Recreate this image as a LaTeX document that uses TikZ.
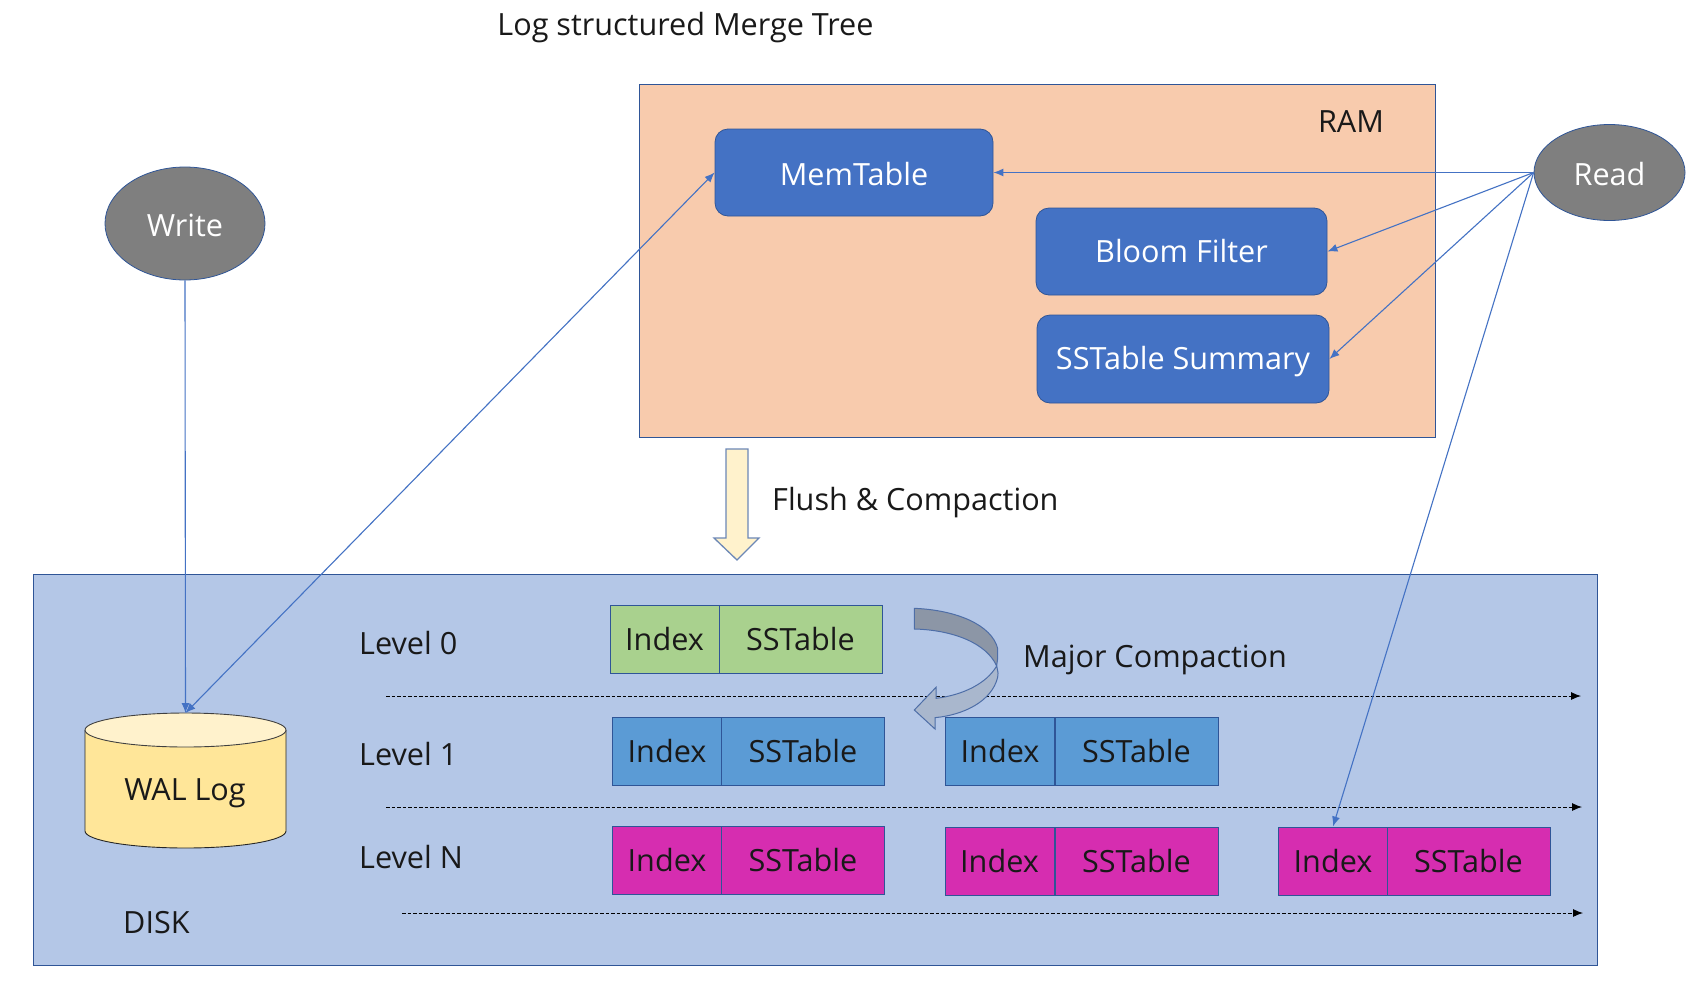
\documentclass[tikz,border=0pt]{standalone}
\usepackage{fontspec}
\setmainfont{Open Sans}
\usetikzlibrary{arrows.meta,shapes.geometric,calc}
\definecolor{ramfill}{HTML}{F8CBAD}
\definecolor{diskfill}{HTML}{B4C7E7}
\definecolor{bluefill}{HTML}{4472C4}
\definecolor{blueline}{HTML}{2F5597}
\definecolor{greyfill}{HTML}{7F7F7F}
\definecolor{greenfill}{HTML}{A9D18E}
\definecolor{midblue}{HTML}{5B9BD5}
\definecolor{magfill}{HTML}{D62DB0}
\definecolor{cyl}{HTML}{FFE699}
\definecolor{cyltop}{HTML}{FFF2CC}
\definecolor{curvedark}{HTML}{8C96A6}
\definecolor{curvelight}{HTML}{A9B7CD}
\tikzset{
  lbl/.style={font=\fontsize{30.6}{33}\selectfont,text=black!90,inner sep=0pt},
  panel/.style={draw=blueline,line width=1pt},
  rbox/.style={draw=blueline,fill=bluefill,line width=.8pt,rounded corners=13pt,minimum width=0pt,inner sep=0pt,text=white,font=\fontsize{30.6}{33}\selectfont},
  oval/.style={ellipse,draw=blueline,fill=greyfill,line width=.8pt,inner sep=0pt,text=white,font=\fontsize{30.6}{33}\selectfont,text height=25pt,text depth=0pt},
  cell/.style={draw=blueline,line width=1pt,inner sep=0pt,text=black!90,font=\fontsize{30.6}{33}\selectfont,minimum height=68pt},
  idx/.style={cell,minimum width=109pt},
  sst/.style={cell,minimum width=163pt},
  green/.style={fill=greenfill},
  mid/.style={fill=midblue},
  mag/.style={fill=magfill},
  conn/.style={draw=bluefill,line width=1.1pt,-{Latex[length=10pt,width=8pt]}},
  dots/.style={draw=black,line width=.9pt,dash pattern=on 3.5pt off 2pt,-{Latex[length=10pt,width=8pt]}},
}
\begin{document}
\begin{tikzpicture}[x=1pt,y=-1pt]
\useasboundingbox (0,0) rectangle (1696,988);
\fill[white] (0,0) rectangle (1696,988);
\node[lbl] (title) at (685.5,28) {Log structured Merge Tree};
\path[panel,fill=ramfill] (639,84) rectangle (1435,437);
\path[panel,fill=diskfill] (33,574) rectangle (1597,965);
\node[lbl] (ramlbl) at (1351,122) {RAM};
\node[rbox,minimum width=278pt,minimum height=87pt,text height=25pt,text depth=0pt] (mem) at (854,172.5) {MemTable};
\node[rbox,minimum width=291pt,minimum height=87pt] (bloom) at (1181.5,251.5) {Bloom Filter};
\node[rbox,minimum width=292pt,minimum height=88pt,text height=25pt,text depth=4pt] (summ) at (1183,359) {SSTable Summary};
\node[oval,minimum width=160pt,minimum height=113pt] (write) at (185,223.5) {Write};
\node[oval,minimum width=151pt,minimum height=96pt] (read) at (1609.5,172.5) {Read};
% cylinder
\fill[cyl] (85,730) -- (85,831) arc[start angle=180,end angle=360,x radius=100.5pt,y radius=17pt] -- (286,730) -- cycle;
\draw[black!85,line width=.9pt] (85,730) -- (85,831) arc[start angle=180,end angle=360,x radius=100.5pt,y radius=17pt] -- (286,730);
\draw[black!75,fill=cyltop,line width=.9pt] (185.5,730) ellipse[x radius=100.5pt,y radius=17pt];
\coordinate (waltop) at (185.5,713);
\node[lbl] (wal) at (185,793) {WAL Log};
% flush arrow
\path[draw=blueline!70!white,line width=1.3pt,fill=cyltop,line join=miter] (726,449) -- (748,449) -- (748,538) -- (759,538) -- (737,560) -- (714,538) -- (726,538) -- cycle;
\node[lbl,anchor=west] (flush) at (772,503) {Flush \& Compaction};
% level labels
\node[lbl,anchor=west] (l0) at (359,643) {Level 0};
\node[lbl,anchor=west] (l1) at (359,754) {Level 1};
\node[lbl,anchor=west] (ln) at (359,857) {Level N};
\node[lbl,anchor=west] (disk) at (123,923) {DISK};
\node[lbl,anchor=west] (major) at (1023,660) {Major Compaction};
% cells
\node[idx,green] (i0) at (664.5,639) {Index};
\node[sst,green] (s0) at (800.5,639) {SSTable};
\node[idx,mid] (i1a) at (667,751) {Index};
\node[sst,mid] (s1a) at (803,751) {SSTable};
\node[idx,mid] (i1b) at (1000,751) {Index};
\node[sst,mid] (s1b) at (1136.5,751) {SSTable};
\node[idx,mag] (ina) at (667,860) {Index};
\node[sst,mag] (sna) at (803,860) {SSTable};
\node[idx,mag] (inb) at (999.5,861) {Index};
\node[sst,mag] (snb) at (1136.5,861) {SSTable};
\node[idx,mag] (inc) at (1333,861) {Index};
\node[sst,mag] (snc) at (1468.5,861) {SSTable};
% dotted lines
\coordinate (d0a) at (386,696); \coordinate (d0b) at (1581,696);
\coordinate (d1a) at (386,807); \coordinate (d1b) at (1582,807);
\coordinate (d2a) at (402,913); \coordinate (d2b) at (1583,913);
\draw[dots] (d0a) -- (d0b);
\draw[dots] (d1a) -- (d1b);
\draw[dots] (d2a) -- (d2b);
% curved arrow
\begin{scope}[shift={(850,580)},x=.3333pt,y=-.3333pt]
\path[draw=blueline!85!white,line width=1pt,fill=curvelight,line join=miter]
 (440,258) .. controls (445,280) and (445,282) .. (443,292)
 .. controls (425,365) and (340,405) .. (255,413)
 -- (255,447) -- (193,390) -- (258,322) -- (258,355)
 .. controls (340,345) and (410,310) .. (440,258) -- cycle;
\path[draw=blueline!85!white,line width=1pt,fill=curvedark,line join=miter]
 (193,85) .. controls (320,90) and (425,135) .. (443,205)
 -- (443,235) -- (440,258)
 .. controls (410,190) and (310,150) .. (193,147) -- cycle;
\end{scope}
% connectors
\draw[conn] (write.south) -- (waltop);
\draw[conn,{Latex[length=10pt,width=8pt]}-{Latex[length=10pt,width=8pt]}] (waltop) -- (mem.west);
\draw[conn] (read.west) -- (mem.east);
\draw[conn] (read.west) -- (bloom.east);
\draw[conn] (read.west) -- (summ.east);
\draw[conn] (read.west) -- (inc.north);
\end{tikzpicture}
\end{document}
